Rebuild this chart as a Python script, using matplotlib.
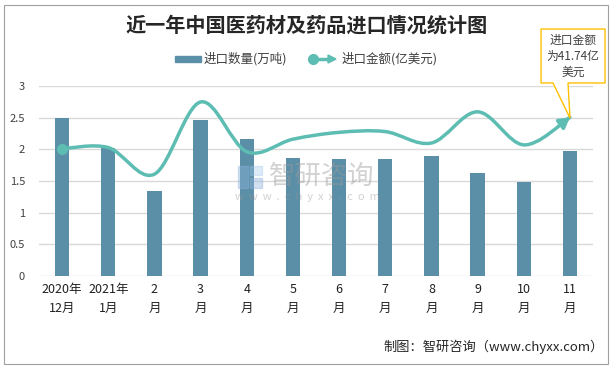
import matplotlib
matplotlib.use('Agg')
import matplotlib.pyplot as plt
from matplotlib.path import Path
from matplotlib.patches import PathPatch, Rectangle, Polygon
import numpy as np

plt.rcParams['font.family'] = ['Noto Sans CJK SC', 'DejaVu Sans']

months = ['2020年\n12月', '2021年\n1月', '2\n月', '3\n月', '4\n月', '5\n月',
          '6\n月', '7\n月', '8\n月', '9\n月', '10\n月', '11\n月']
quantity = [2.49, 2.02, 1.35, 2.46, 2.17, 1.86, 1.84, 1.84, 1.90, 1.63, 1.49, 1.98]
amount = [33.5, 33.8, 26.8, 45.8, 32.7, 36.0, 37.8, 38.0, 35.0, 43.2, 34.5, 41.74]
yticks = [0, 0.5, 1, 1.5, 2, 2.5, 3]
ytick_labels = ['0', '0.5', '1', '1.5', '2', '2.5', '3']

bar_color = '#5b8fa7'
line_color = '#5dbdb3'

W, H = 614, 368


def fx(px):
    return px / W


def fy(py):
    return 1 - py / H


fig = plt.figure(figsize=(6.14, 3.68), dpi=100)
fig.patches.append(Rectangle((fx(4), fy(364)), fx(604), 359 / H, transform=fig.transFigure,
                             fill=False, edgecolor='#a0a0a0', linewidth=0.8))

ax = fig.add_axes([fx(39), fy(276), fx(554), 190 / H])
x = np.arange(len(months))
ax.bar(x, quantity, width=0.31, color=bar_color, zorder=2)
ax.set_xlim(-0.5, len(months) - 0.5)
ax.set_ylim(0, 3)
ax.set_yticks(yticks)
ax.set_yticklabels(ytick_labels, fontsize=8, color='#404040')
ax.set_xticks(x)
ax.set_xticklabels(months, fontsize=9, color='#202020', linespacing=1.6)
ax.tick_params(length=0, pad=5)
ax.tick_params(axis='y', pad=10)
ax.grid(axis='y', color='#d9d9d9', linewidth=1, zorder=0)
for s in ax.spines.values():
    s.set_visible(False)

# hidden secondary axis for the amount line
ax2 = ax.twinx()
ax2.set_ylim(0, 50)
ax2.set_axis_off()

# smoothed line (Catmull-Rom -> cubic bezier)
pts = np.column_stack([x, amount]).astype(float)
verts = [pts[0]]
codes = [Path.MOVETO]
n = len(pts)
for i in range(n - 1):
    p0 = pts[i - 1] if i > 0 else pts[i]
    p1 = pts[i]
    p2 = pts[i + 1]
    p3 = pts[i + 2] if i + 2 < n else pts[i + 1]
    c1 = p1 + (p2 - p0) / 6
    c2 = p2 - (p3 - p1) / 6
    verts += [c1, c2, p2]
    codes += [Path.CURVE4] * 3
last_c1, last_c2 = verts[-3], verts[-2]
ax2.add_patch(PathPatch(Path(verts, codes), fill=False, edgecolor=line_color,
                        linewidth=2.5, capstyle='round', zorder=3))
ax2.plot(pts[0, 0], pts[0, 1], 'o', color=line_color, markersize=7, zorder=4)
t = 0.8
p1 = pts[-2]
p2 = pts[-1]
tail = ((1 - t) ** 3) * p1 + 3 * ((1 - t) ** 2) * t * last_c1 + 3 * (1 - t) * t * t * last_c2 + t ** 3 * p2
ax2.annotate('', xy=(p2[0], p2[1]), xytext=(tail[0], tail[1]),
             arrowprops=dict(arrowstyle='-|>,head_length=0.6,head_width=0.35',
                             color=line_color, lw=2.5, shrinkA=0, shrinkB=0), zorder=4)

# title
fig.text(fx(307), fy(25), '近一年中国医药材及药品进口情况统计图', ha='center', va='center',
         fontsize=14.5, fontweight='bold', color='#262626')

# legend
fig.patches.append(Rectangle((fx(175), fy(62)), 26 / W, 6 / H, transform=fig.transFigure, color=bar_color))
fig.text(fx(204), fy(59), '进口数量(万吨)', ha='left', va='center', fontsize=9, color='#404040')
fig.add_artist(matplotlib.lines.Line2D([fx(313), fx(331)], [fy(59), fy(59)],
                                       transform=fig.transFigure, color=line_color, linewidth=2.5))
fig.add_artist(matplotlib.lines.Line2D([fx(313)], [fy(59)], transform=fig.transFigure,
                                       marker='o', color=line_color, markersize=7))
fig.patches.append(Polygon([(fx(328), fy(55)), (fx(336), fy(59)), (fx(328), fy(63))],
                           closed=True, transform=fig.transFigure, color=line_color))
fig.text(fx(342), fy(59), '进口金额(亿美元)', ha='left', va='center', fontsize=9, color='#404040')

# callout
bx0, bx1, by0, by1 = 541, 605, 29, 83
callout = Polygon([(bx0, by0), (bx1, by0), (bx1, by1), (568, by1), (570, 118), (553, by1), (bx0, by1)],
                  closed=True, facecolor='white', edgecolor='#ffc000', linewidth=1,
                  transform=matplotlib.transforms.Affine2D().scale(1 / W, -1 / H).translate(0, 1) + fig.transFigure,
                  zorder=10)
fig.patches.append(callout)
fig.text(fx((bx0 + bx1) / 2), fy(56), '进口金额\n为41.74亿\n美元', ha='center', va='center',
         fontsize=8.5, color='#404040', linespacing=1.3, zorder=11)

# watermark
fig.text(fx(322), fy(176), '智研咨询', ha='center', va='center', fontsize=19,
         color='#9a9a9a', alpha=0.45)
fig.text(fx(307), fy(197), 'w  w  w  .  c  h  y  x  x  .  c  o  m', ha='center', va='center',
         fontsize=8, color='#9a9a9a', alpha=0.45)
fig.patches.append(Rectangle((fx(238), fy(188)), 10 / W, 22 / H, transform=fig.transFigure,
                             color='#8fb3dc', alpha=0.4))
fig.patches.append(Rectangle((fx(250), fy(188)), 12 / W, 10 / H, transform=fig.transFigure,
                             color='#8fb3dc', alpha=0.4))
fig.patches.append(Rectangle((fx(250), fy(175)), 12 / W, 9 / H, transform=fig.transFigure,
                             color='#9fc6ea', alpha=0.35))

# footer
fig.text(fx(604), fy(347), '制图：智研咨询（www.chyxx.com）', ha='right', va='center',
         fontsize=9.5, color='#262626')

fig.savefig('out.png', dpi=100)
